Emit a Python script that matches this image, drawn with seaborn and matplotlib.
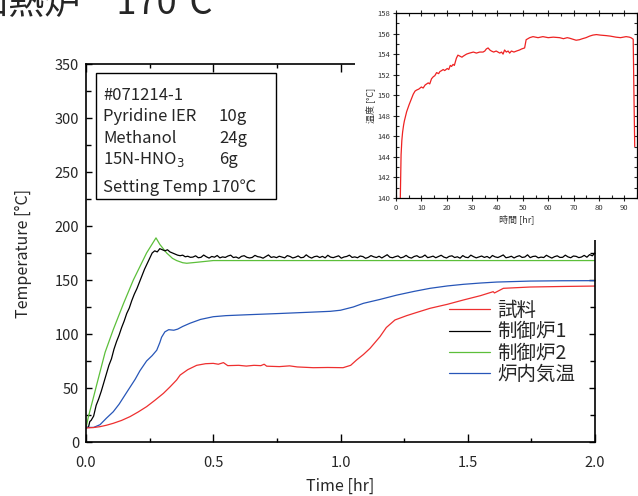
import numpy as np
import pandas as pd
import matplotlib
matplotlib.use("Agg")
import matplotlib.pyplot as plt
from matplotlib.ticker import MultipleLocator
from matplotlib.lines import Line2D
from matplotlib.patches import Rectangle
import seaborn as sns

sns.set_style("ticks")
plt.rcParams["font.family"] = ["Noto Sans CJK JP", "DejaVu Sans"]
plt.rcParams["axes.unicode_minus"] = False

W, H, DPI = 638, 496, 100

# ---------------- main run: time [hr] vs temperature [°C] ----------------
sample_t = [0.00, 0.03, 0.055, 0.08, 0.107, 0.14, 0.173, 0.205, 0.238, 0.27,
            0.304, 0.33, 0.356, 0.37, 0.40, 0.435, 0.47, 0.50, 0.52, 0.54,
            0.557, 0.60, 0.63, 0.66, 0.687, 0.70, 0.71, 0.76, 0.80, 0.83,
            0.893, 0.95, 1.01, 1.04, 1.063, 1.09, 1.116, 1.155, 1.18, 1.214,
            1.26, 1.30, 1.352, 1.42, 1.483, 1.55, 1.60, 1.605, 1.64, 1.745,
            1.87, 2.00]
sample_T = [13.0, 13.4, 14.2, 15.5, 17.3, 20.0, 23.5, 27.8, 32.7, 38.5,
            45.0, 51.0, 57.4, 62.0, 67.0, 71.0, 72.5, 72.8, 72.0, 73.5,
            70.7, 71.0, 70.3, 71.0, 70.7, 72.0, 70.2, 69.8, 70.5, 69.5,
            68.8, 69.0, 68.8, 71.0, 75.9, 81.0, 86.7, 97.5, 106.0, 113.0,
            117.0, 120.0, 123.8, 127.5, 131.5, 135.5, 139.2, 138.0, 142.3, 143.5,
            144.0, 144.4]

ctrl1_rise_t = [0.000, 0.010, 0.015, 0.020, 0.030, 0.040, 0.050, 0.060, 0.070, 0.080,
                0.090, 0.100, 0.110, 0.120, 0.130, 0.140, 0.150, 0.160, 0.170, 0.180,
                0.190, 0.200, 0.210, 0.220, 0.230, 0.240, 0.250, 0.260, 0.270, 0.280,
                0.290, 0.300, 0.310, 0.320, 0.330, 0.340, 0.350, 0.360, 0.370, 0.380,
                0.390, 0.400, 0.410]
ctrl1_rise_T = [13.0, 14.0, 19.0, 20.0, 24.0, 34.0, 40.0, 47.0, 55.0, 63.0,
                71.0, 77.0, 86.0, 93.0, 99.0, 106.0, 112.0, 119.0, 124.0, 131.0,
                137.0, 142.0, 148.0, 154.0, 160.0, 165.0, 170.0, 175.0, 177.0, 176.0,
                179.0, 178.0, 177.0, 178.0, 176.0, 175.0, 174.0, 173.0, 172.5, 173.0,
                171.5, 172.0, 171.0]
# holding phase, logged on an even interval from 0.42 hr to 2.0 hr
ctrl1_hold_T = [171.2, 172.4, 170.6, 171.0, 173.1, 171.5, 170.3, 171.8, 171.1, 172.7,
                170.5, 171.4, 170.9, 172.2, 173.0, 170.8, 171.3, 170.1, 171.9, 172.5,
                171.0, 170.4, 170.9, 172.8, 171.6, 171.2, 170.2, 171.7, 173.2, 170.9,
                171.5, 170.7, 172.0, 171.3, 170.5, 172.6, 171.8, 170.4, 171.1, 172.3,
                170.6, 171.0, 173.3, 171.4, 170.3, 171.6, 172.1, 170.8, 171.9, 170.5,
                172.9, 171.2, 170.7, 171.5, 172.4, 170.2, 171.3, 171.8, 173.0, 170.9,
                171.4, 170.6, 172.2, 171.7, 170.1, 171.0, 172.6, 171.5, 170.8, 172.0,
                170.4, 171.9, 173.4, 171.1, 170.6, 171.6, 172.3, 170.5, 171.2, 172.8,
                171.0, 170.3, 171.8, 172.5, 170.9, 171.4, 173.1, 170.7, 171.3, 172.1,
                170.6, 171.7, 172.9, 171.2, 170.4, 171.9, 172.4, 170.8, 171.5, 170.2,
                172.6, 171.1, 170.7, 173.0, 171.6, 170.5, 171.3, 172.2, 170.9, 171.8,
                170.3, 172.7, 171.4, 170.8, 171.9, 173.2, 170.6, 171.1, 172.0, 170.4,
                171.7, 172.5, 170.9, 171.3, 173.3, 170.7, 171.8, 172.1, 170.5, 171.2,
                170.8, 172.9, 171.5, 170.3, 171.6, 172.4, 170.9, 171.0, 173.0, 171.4,
                170.6, 172.2, 171.9, 170.7, 171.3, 172.8, 171.1, 173.5, 172.4, 175.0]

ctrl2_t = [0.000, 0.009, 0.029, 0.042, 0.075, 0.107, 0.147, 0.186, 0.238, 0.275,
           0.290, 0.317, 0.340, 0.356, 0.380, 0.396, 0.435, 0.500, 1.000, 1.500,
           2.000]
ctrl2_T = [13.0, 23.0, 41.0, 53.0, 83.0, 104.0, 128.0, 150.0, 175.0, 189.0,
           183.0, 175.0, 170.0, 168.0, 166.0, 165.5, 166.4, 168.0, 168.0, 168.0,
           168.0]

air_t = [0.000, 0.030, 0.055, 0.080, 0.107, 0.130, 0.160, 0.193, 0.212, 0.238,
         0.260, 0.278, 0.290, 0.297, 0.310, 0.325, 0.345, 0.360, 0.380, 0.409,
         0.450, 0.500, 0.550, 0.631, 0.762, 0.893, 0.960, 1.000, 1.050, 1.090,
         1.155, 1.221, 1.290, 1.352, 1.420, 1.483, 1.550, 1.614, 1.745, 1.870,
         2.000]
air_T = [13.5, 13.5, 16.0, 22.0, 28.0, 35.0, 46.0, 58.0, 66.0, 75.0,
         80.0, 85.0, 92.0, 97.0, 102.0, 104.0, 103.5, 104.5, 107.0, 110.0,
         113.5, 116.0, 117.0, 117.8, 119.0, 120.3, 121.0, 122.0, 125.0, 128.4,
         132.0, 136.0, 139.5, 142.3, 144.5, 146.0, 147.2, 148.1, 149.0, 149.3,
         149.4]

series_names = ["試料", "制御炉1", "制御炉2", "炉内気温"]
series_colors = ["#ee2f2f", "#000000", "#5cbf3a", "#2756b8"]

# ---------------- long run: 時間 [hr] vs 温度 [°C] ----------------
long_t = [1.5, 1.7, 2.0, 2.3, 2.6, 3.0, 3.3, 3.8, 4.2, 5.2,
          6.0, 6.8, 7.5, 8.1, 9.0, 10.0, 10.7, 11.5, 12.7, 13.3,
          14.0, 14.7, 15.3, 16.0, 16.8, 17.3, 18.0, 18.6, 19.2, 20.2,
          20.8, 21.4, 21.9, 22.5, 23.0, 23.8, 24.4, 25.2, 26.0, 26.5,
          27.8, 29.0, 30.5, 31.7, 33.0, 34.3, 35.0, 35.6, 36.3, 37.0,
          37.6, 38.5, 39.5, 40.9, 41.6, 42.2, 42.8, 43.5, 44.2, 44.8,
          45.5, 46.5, 47.5, 48.7, 49.5, 50.7, 51.0, 51.3, 52.0, 52.7,
          54.0, 56.0, 57.9, 60.0, 62.0, 64.5, 66.0, 67.5, 68.4, 69.7,
          71.0, 72.3, 73.5, 74.9, 76.3, 77.6, 79.0, 80.5, 82.8, 84.5,
          86.7, 88.5, 90.7, 92.0, 92.6, 93.5, 93.8, 94.1]
long_T = [136.0, 140.0, 144.2, 145.6, 146.4, 147.1, 147.5, 148.0, 148.4, 149.1,
          149.6, 150.1, 150.4, 150.5, 150.6, 150.8, 150.7, 151.0, 151.2, 151.1,
          151.6, 151.8, 151.9, 152.2, 152.1, 152.3, 152.4, 152.5, 152.4, 152.6,
          152.5, 152.9, 152.8, 153.0, 152.9, 153.6, 153.9, 153.8, 153.7, 153.8,
          154.0, 154.1, 154.2, 154.1, 154.2, 154.2, 154.3, 154.5, 154.6, 154.4,
          154.3, 154.2, 154.3, 154.1, 154.2, 154.0, 154.4, 154.2, 154.3, 154.1,
          154.3, 154.2, 154.3, 154.4, 154.5, 154.6, 155.0, 155.4, 155.5, 155.6,
          155.7, 155.6, 155.7, 155.6, 155.65, 155.6, 155.5, 155.6, 155.55, 155.45,
          155.35, 155.4, 155.5, 155.6, 155.75, 155.85, 155.9, 155.85, 155.8, 155.75,
          155.65, 155.6, 155.7, 155.65, 155.6, 155.45, 150.0, 145.0]

# ---------------- helpers ----------------
def fx(px):
    return px / W


def fy(py):
    return 1 - py / H


ctrl1_t = ctrl1_rise_t + list(np.linspace(0.42, 2.0, len(ctrl1_hold_T)))
ctrl1_T = ctrl1_rise_T + ctrl1_hold_T

frames = [
    pd.DataFrame({"t": sample_t, "T": sample_T, "series": "試料"}),
    pd.DataFrame({"t": ctrl1_t, "T": ctrl1_T, "series": "制御炉1"}),
    pd.DataFrame({"t": ctrl2_t, "T": ctrl2_T, "series": "制御炉2"}),
    pd.DataFrame({"t": air_t, "T": air_T, "series": "炉内気温"}),
]
df = pd.concat(frames, ignore_index=True)
palette = dict(zip(series_names, series_colors))

fig = plt.figure(figsize=(W / DPI, H / DPI), dpi=DPI)
ax = fig.add_axes([fx(86), fy(442), fx(595) - fx(86), fy(64) - fy(442)])

sns.lineplot(data=df, x="t", y="T", hue="series", palette=palette,
             hue_order=["制御炉2", "制御炉1", "炉内気温", "試料"],
             sort=False, estimator=None, linewidth=0.9, legend=False, ax=ax)

ax.set_xlim(0, 2.0)
ax.set_ylim(0, 350)
ax.xaxis.set_major_locator(MultipleLocator(0.5))
ax.xaxis.set_minor_locator(MultipleLocator(0.25))
ax.yaxis.set_major_locator(MultipleLocator(50))
ax.yaxis.set_minor_locator(MultipleLocator(25))
ax.xaxis.set_major_formatter(plt.FuncFormatter(lambda v, p: f"{v:.1f}"))
ax.tick_params(which="both", direction="in", top=True, right=True,
               labelsize=10.5, color="black", width=1.0)
ax.tick_params(axis="x", which="major", length=6, pad=10)
ax.tick_params(axis="x", which="minor", length=3)
ax.tick_params(axis="y", which="major", length=4, pad=5)
ax.tick_params(axis="y", which="minor", length=3.5)
for sp in ax.spines.values():
    sp.set_visible(True)
    sp.set_linewidth(1.2)
    sp.set_color("black")
ax.set_xlabel("Time [hr]", fontsize=11.5, labelpad=6)
ax.set_ylabel("Temperature [°C]", fontsize=11.5, labelpad=16)

handles = [Line2D([], [], color=c, linewidth=0.9) for c in series_colors]
ax.legend(handles, series_names, loc="upper left",
          bbox_to_anchor=(fx(449), fy(300)), bbox_transform=fig.transFigure,
          frameon=False, fontsize=14, handlelength=2.1, handletextpad=0.4,
          labelspacing=0.02, borderpad=0, borderaxespad=0)

# conditions box
fig.add_artist(Rectangle((fx(96), fy(199)), fx(276) - fx(96), fy(73) - fy(199),
                         transform=fig.transFigure, facecolor="white",
                         edgecolor="black", linewidth=1.0, zorder=3))
box_font = 12
fig.text(fx(103), fy(99.5), "#071214-1", fontsize=box_font, va="baseline", zorder=4)
fig.text(fx(103), fy(121), "Pyridine IER", fontsize=box_font, va="baseline", zorder=4)
fig.text(fx(219), fy(121), "10g", fontsize=box_font, va="baseline", zorder=4)
fig.text(fx(103), fy(143), "Methanol", fontsize=box_font, va="baseline", zorder=4)
fig.text(fx(219), fy(143), "24g", fontsize=box_font, va="baseline", zorder=4)
fig.text(fx(103), fy(164), r"15N-HNO$_3$", fontsize=box_font, va="baseline", zorder=4)
fig.text(fx(219), fy(164), "6g", fontsize=box_font, va="baseline", zorder=4)
fig.text(fx(103), fy(192), "Setting Temp 170℃", fontsize=box_font, va="baseline", zorder=4)

# title
fig.text(fx(-28), fy(13), "加熱炉\u3000170℃", fontsize=26, va="baseline", ha="left")

# long-run panel on a white backing
fig.add_artist(Rectangle((fx(355), fy(240)), fx(638) - fx(355), fy(0) - fy(240),
                         transform=fig.transFigure, facecolor="white",
                         edgecolor="none", zorder=1))
ins = fig.add_axes([fx(396), fy(198), fx(637) - fx(396), fy(13) - fy(198)])
ins.set_zorder(2)
sns.lineplot(x=long_t, y=long_T, color="#ee2222", linewidth=0.9,
             sort=False, estimator=None, ax=ins)
ins.set_xlim(0, 95)
ins.set_ylim(140, 158)
ins.xaxis.set_major_locator(MultipleLocator(10))
ins.xaxis.set_minor_locator(MultipleLocator(5))
ins.yaxis.set_major_locator(MultipleLocator(2))
ins.yaxis.set_minor_locator(MultipleLocator(1))
ins.tick_params(which="both", top=True, right=True, labelsize=5.5,
                labelcolor="#333333", width=0.8, pad=2)
ins.tick_params(which="major", direction="inout", length=4)
ins.tick_params(which="minor", direction="in", length=2)
for sp in ins.spines.values():
    sp.set_visible(True)
    sp.set_linewidth(0.9)
    sp.set_color("black")
ins.set_xlabel("時間 [hr]", fontsize=6.5, color="#333333", labelpad=2)
ins.set_ylabel("温度 [°C]", fontsize=6.5, color="#333333", labelpad=2)

fig.savefig("out.png", dpi=DPI)
